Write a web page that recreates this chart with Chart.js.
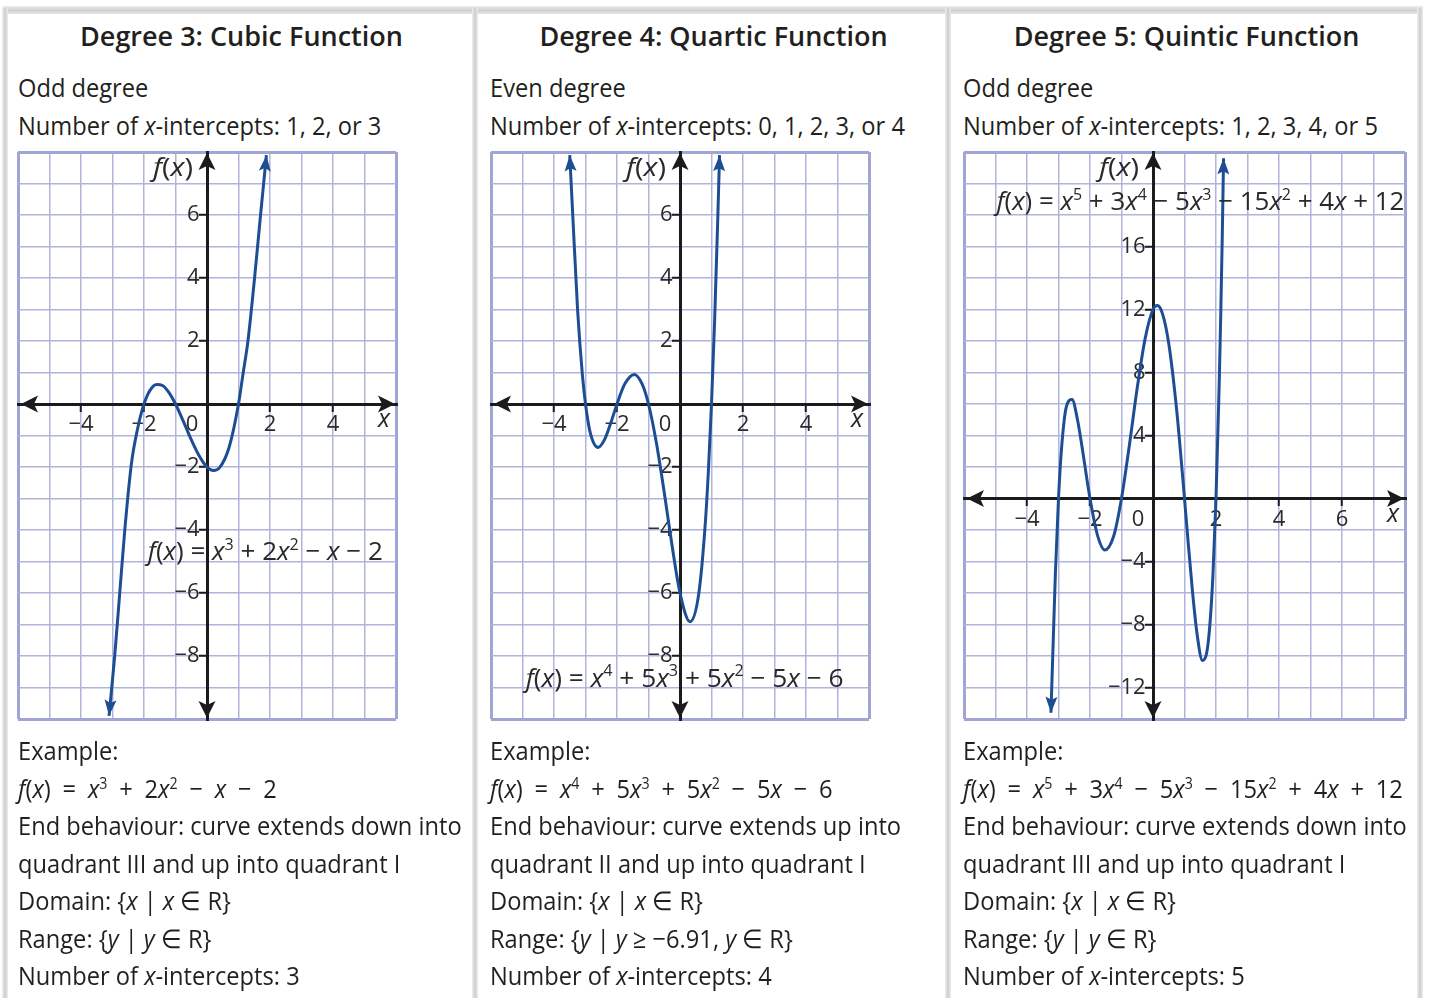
<!DOCTYPE html>
<html>
<head>
<meta charset="utf-8">
<script src="https://cdn.jsdelivr.net/npm/chart.js@4.4.1/dist/chart.umd.min.js"></script>
<style>
  html, body { margin: 0; padding: 0; background: #fff; }
  body { width: 1430px; height: 998px; position: relative; overflow: hidden;
         font-family: "Open Sans", sans-serif; color: #231f20; }
  .bar-top { position: absolute; left: 3px; top: 6px; width: 1420px; height: 8px;
             background: linear-gradient(#ececec, #cfcfcf 55%, #e6e6e6); }
  .sep { position: absolute; top: 8px; bottom: 0; width: 6px;
         background: linear-gradient(90deg, #f0f0f0, #cdcdcd 50%, #ededed); }
  .title { position: absolute; top: 21px; width: 473px; text-align: center;
           font-size: 27px; line-height: 30px; font-weight: 600; white-space: nowrap; }
  .title span { display: inline-block; transform: scaleX(1); transform-origin: 50% 0; }
  .block { position: absolute; font-size: 26px; line-height: 37.5px; white-space: nowrap;
           transform: scaleX(.91); transform-origin: 0 0; }
  .block sup { font-size: 60%; line-height: 0; vertical-align: .55em; }
  canvas { position: absolute; }
</style>
</head>
<body>
<div class="bar-top"></div>
<div class="sep" style="left:2px"></div>
<div class="sep" style="left:472px"></div>
<div class="sep" style="left:945px"></div>
<div class="sep" style="left:1417px"></div>

<div class="title" style="left:5px"><span>Degree 3: Cubic Function</span></div>
<div class="title" style="left:477px"><span>Degree 4: Quartic Function</span></div>
<div class="title" style="left:950px"><span>Degree 5: Quintic Function</span></div>

<div class="block" style="left:18px;top:69px">Odd degree<br>Number of <i>x</i>-intercepts: 1, 2, or 3</div>
<div class="block" style="left:490px;top:69px">Even degree<br>Number of <i>x</i>-intercepts: 0, 1, 2, 3, or 4</div>
<div class="block" style="left:963px;top:69px">Odd degree<br>Number of <i>x</i>-intercepts: 1, 2, 3, 4, or 5</div>

<canvas id="cubic" width="426" height="615" style="left:-6px;top:128px"></canvas>
<canvas id="quartic" width="426" height="615" style="left:467px;top:128px"></canvas>
<canvas id="quintic" width="489" height="615" style="left:940px;top:128px"></canvas>

<div class="block" style="left:18px;top:732px">Example:<br>
<i>f</i>(<i>x</i>)&ensp;=&ensp;<i>x</i><sup>3</sup>&ensp;+&ensp;2<i>x</i><sup>2</sup>&ensp;−&ensp;<i>x</i>&ensp;−&ensp;2<br>
End behaviour: curve extends down into<br>
quadrant III and up into quadrant I<br>
Domain: {<i>x</i> | <i>x</i> ∈ R}<br>
Range: {<i>y</i> | <i>y</i> ∈ R}<br>
Number of <i>x</i>-intercepts: 3</div>

<div class="block" style="left:490px;top:732px">Example:<br>
<i>f</i>(<i>x</i>)&ensp;=&ensp;<i>x</i><sup>4</sup>&ensp;+&ensp;5<i>x</i><sup>3</sup>&ensp;+&ensp;5<i>x</i><sup>2</sup>&ensp;−&ensp;5<i>x</i>&ensp;−&ensp;6<br>
End behaviour: curve extends up into<br>
quadrant II and up into quadrant I<br>
Domain: {<i>x</i> | <i>x</i> ∈ R}<br>
Range: {<i>y</i> | <i>y</i> ≥ −6.91, <i>y</i> ∈ R}<br>
Number of <i>x</i>-intercepts: 4</div>

<div class="block" style="left:963px;top:732px">Example:<br>
<i>f</i>(<i>x</i>)&ensp;=&ensp;<i>x</i><sup>5</sup>&ensp;+&ensp;3<i>x</i><sup>4</sup>&ensp;−&ensp;5<i>x</i><sup>3</sup>&ensp;−&ensp;15<i>x</i><sup>2</sup>&ensp;+&ensp;4<i>x</i>&ensp;+&ensp;12<br>
End behaviour: curve extends down into<br>
quadrant III and up into quadrant I<br>
Domain: {<i>x</i> | <i>x</i> ∈ R}<br>
Range: {<i>y</i> | <i>y</i> ∈ R}<br>
Number of <i>x</i>-intercepts: 5</div>

<script>
// ---------- data ----------
const cubicX = [-3.11, -2.93, -2.77, -2.61, -2.4, -2.2, -2.0, -1.8, -1.6, -1.4, -1.2, -1.0,
                -0.75, -0.5, -0.25, 0, 0.2, 0.4, 0.7, 1.0, 1.15, 1.3, 1.51, 1.7, 1.886];
const cubicY = [-9.9, -8, -6, -4, -1.9, -0.77, 0, 0.45, 0.62, 0.58, 0.35, 0,
                -0.55, -1.13, -1.64, -2, -2.11, -2.02, -1.38, 0, 1.0, 2.0, 4.0, 6.0, 7.9];
const cubicXTicks = [-4, -2, 2, 4];
const cubicYTicks = [-8, -6, -4, -2, 2, 4, 6];

const quarticX = [-3.5, -3.4, -3.25, -3.1, -3.0, -2.85, -2.6, -2.4, -2.2, -2.0, -1.75, -1.45,
                  -1.2, -1.0, -0.75, -0.5, -0.25, 0, 0.32, 0.6, 0.8, 0.9, 1.0, 1.1, 1.2, 1.255];
const quarticY = [7.9, 5.91, 2.97, 0.94, 0, -0.91, -1.38, -1.14, -0.61, 0, 0.64, 0.94,
                  0.63, 0, -1.23, -2.81, -4.51, -6, -6.91, -5.99, -3.83, -2.15, 0, 2.67, 5.91, 7.9];
const quarticXTicks = [-4, -2, 2, 4];
const quarticYTicks = [-8, -6, -4, -2, 2, 4, 6];

const quinticX = [-3.24, -3.15, -3.1, -3.0, -2.9, -2.75, -2.57, -2.4, -2.25, -2.0, -1.75, -1.53,
                  -1.25, -1.0, -0.75, -0.5, -0.25, 0, 0.14, 0.3, 0.5, 0.75, 1.0, 1.1, 1.25,
                  1.4, 1.57, 1.75, 1.9, 2.0, 2.1, 2.15, 2.2, 2.24];
const quinticY = [-13.6, -7.93, -4.83, 0, 3.27, 5.84, 6.28, 5.03, 3.24, 0, -2.42, -3.27,
                  -2.4, 0, 3.38, 7.03, 10.15, 12, 12.25, 11.74, 9.84, 5.64, 0, -2.4, -5.83,
                  -8.62, -10.28, -9.18, -4.99, 0, 7.13, 11.61, 16.77, 21.6];
const quinticXTicks = [-4, -2, 2, 4, 6];
const quinticYTicks = [-12, -8, -4, 4, 8, 12, 16];

// ---------- theme ----------
const AXIS = '#1b1b1b';
const GRID = '#b0b3dc';
const FRAME = '#a1a5d5';
const CURVE = '#1d4e93';
const INK = '#2a2a2a';
const FONT = '"Open Sans", sans-serif';
const PAD = 24;

function fmt(v) {
  return v < 0 ? '\u2212' + Math.abs(v) : String(v);
}

// filled arrowhead with its tip at (x, y), pointing along angle
function arrowHead(ctx, x, y, angle, len, half, notch, color) {
  ctx.save();
  ctx.translate(x, y);
  ctx.rotate(angle);
  ctx.beginPath();
  ctx.moveTo(0, 0);
  ctx.lineTo(-len, -half);
  ctx.lineTo(-len + notch, 0);
  ctx.lineTo(-len, half);
  ctx.closePath();
  ctx.fillStyle = color;
  ctx.fill();
  ctx.restore();
}

// small math typesetter: f and x italic, ^d as a superscript digit
function drawMath(ctx, str, x, y, size, width) {
  const parts = [];
  for (let i = 0; i < str.length; i++) {
    const ch = str[i];
    if (ch === '^') { parts.push({ t: str[++i], sup: true }); continue; }
    parts.push({ t: ch, it: ch === 'f' || ch === 'x' || ch === 'y' });
  }
  const fontFor = (p) => p.sup ? `${Math.round(size * 0.6)}px ${FONT}`
                               : `${p.it ? 'italic ' : ''}${size}px ${FONT}`;
  let total = 0;
  parts.forEach((p) => { ctx.font = fontFor(p); p.w = ctx.measureText(p.t).width; total += p.w; });
  ctx.save();
  ctx.translate(x, y);
  ctx.scale(width ? width / total : 0.8, 1);
  ctx.fillStyle = INK;
  ctx.textBaseline = 'alphabetic';
  let cx = 0;
  parts.forEach((p) => {
    ctx.font = fontFor(p);
    ctx.fillText(p.t, cx, p.sup ? -size * 0.4 : 0);
    cx += p.w;
  });
  ctx.restore();
}

// axis arrows, axis names, the origin "0", equation and curve arrowheads
function decor(g) {
  return {
    id: 'decor',
    afterDraw(chart) {
      const { ctx, chartArea: a, scales: { x, y } } = chart;
      const ox = x.getPixelForValue(0);
      const oy = y.getPixelForValue(0);

      drawMath(ctx, g.equation, x.getPixelForValue(g.eqAt[0]), y.getPixelForValue(g.eqAt[1]) + 9, 26, g.eqWidth);

      arrowHead(ctx, a.right - 1, oy, 0, 17, 8.5, 4, AXIS);
      arrowHead(ctx, a.left + 3, oy, Math.PI, 17, 8.5, 4, AXIS);
      arrowHead(ctx, ox, a.top + 1, -Math.PI / 2, 17, 8.5, 4, AXIS);
      arrowHead(ctx, ox, a.bottom - 1, Math.PI / 2, 17, 8.5, 4, AXIS);

      const pts = chart.getDatasetMeta(0).data;
      const n = pts.length;
      const a0 = Math.atan2(pts[0].y - pts[1].y, pts[0].x - pts[1].x);
      const a1 = Math.atan2(pts[n - 1].y - pts[n - 2].y, pts[n - 1].x - pts[n - 2].x);
      arrowHead(ctx, pts[0].x, pts[0].y, a0, 16, 6, 3, CURVE);
      arrowHead(ctx, pts[n - 1].x, pts[n - 1].y, a1, 16, 6, 3, CURVE);

      ctx.save();
      ctx.fillStyle = INK;
      ctx.textBaseline = 'middle';
      ctx.textAlign = 'center';
      ctx.font = `22px ${FONT}`;
      ctx.fillText('0', ox - 15, oy + 21);
      ctx.font = `italic 25px ${FONT}`;
      ctx.fillText('x', a.right - 12, oy + 16);
      ctx.restore();
      drawMath(ctx, 'f(x)', ox - 54, a.top + 24, 25, 40);
    }
  };
}

function buildGraph(id, g) {
  const edge = (lo, hi) => (c) => (c.tick.value === lo || c.tick.value === hi) ? 3 : 1.5;
  const line = (lo, hi) => (c) => c.tick.value === 0 ? 'rgba(0,0,0,0)'
                                 : (c.tick.value === lo || c.tick.value === hi) ? FRAME : GRID;
  const tickFont = { family: FONT, size: 22 };

  return new Chart(document.getElementById(id), {
    type: 'line',
    data: {
      datasets: [{
        data: g.xs.map((v, i) => ({ x: v, y: g.ys[i] })),
        borderColor: CURVE,
        borderWidth: 3,
        pointRadius: 0,
        cubicInterpolationMode: 'monotone',
        fill: false,
      }],
    },
    options: {
      responsive: false,
      animation: false,
      devicePixelRatio: 1,
      layout: { padding: PAD },
      events: [],
      plugins: { legend: { display: false }, tooltip: { enabled: false } },
      scales: {
        x: {
          type: 'linear', min: g.xMin, max: g.xMax, position: { y: 0 },
          ticks: {
            stepSize: 1, autoSkip: false, maxRotation: 0, maxTicksLimit: 100, padding: 2,
            color: INK, font: tickFont,
            callback: (v) => g.xTicks.includes(v) ? fmt(v) : '',
          },
          grid: {
            color: line(g.xMin, g.xMax), lineWidth: edge(g.xMin, g.xMax),
            tickLength: 6, tickWidth: 2,
            tickColor: (c) => g.xTicks.includes(c.tick.value) ? AXIS : 'rgba(0,0,0,0)',
          },
          border: { color: AXIS, width: 3 },
        },
        y: {
          type: 'linear', min: g.yMin, max: g.yMax, position: { x: 0 },
          ticks: {
            stepSize: g.yStep, autoSkip: false, maxTicksLimit: 100,
            color: INK, font: tickFont,
            callback: (v) => g.yTicks.includes(v) ? fmt(v) + '\u2009\u2009' : '',
          },
          grid: {
            color: line(g.yMin, g.yMax), lineWidth: edge(g.yMin, g.yMax),
            tickLength: 7, tickWidth: 2,
            tickColor: (c) => g.yTicks.includes(c.tick.value) ? AXIS : 'rgba(0,0,0,0)',
          },
          border: { color: AXIS, width: 3 },
        },
      },
    },
    plugins: [decor(g)],
  });
}

buildGraph('cubic', {
  xs: cubicX, ys: cubicY, xTicks: cubicXTicks, yTicks: cubicYTicks,
  xMin: -6, xMax: 6, yMin: -10, yMax: 8, yStep: 1,
  equation: 'f(x) = x^3 + 2x^2 \u2212 x \u2212 2', eqAt: [-1.88, -4.68], eqWidth: 235,
});
buildGraph('quartic', {
  xs: quarticX, ys: quarticY, xTicks: quarticXTicks, yTicks: quarticYTicks,
  xMin: -6, xMax: 6, yMin: -10, yMax: 8, yStep: 1,
  equation: 'f(x) = x^4 + 5x^3 + 5x^2 \u2212 5x \u2212 6', eqAt: [-4.9, -8.69], eqWidth: 318,
});
buildGraph('quintic', {
  xs: quinticX, ys: quinticY, xTicks: quinticXTicks, yTicks: quinticYTicks,
  xMin: -6, xMax: 8, yMin: -14, yMax: 22, yStep: 2,
  equation: 'f(x) = x^5 + 3x^4 \u2212 5x^3 \u2212 15x^2 + 4x + 12', eqAt: [-4.97, 18.88], eqWidth: 408,
});
</script>
</body>
</html>
